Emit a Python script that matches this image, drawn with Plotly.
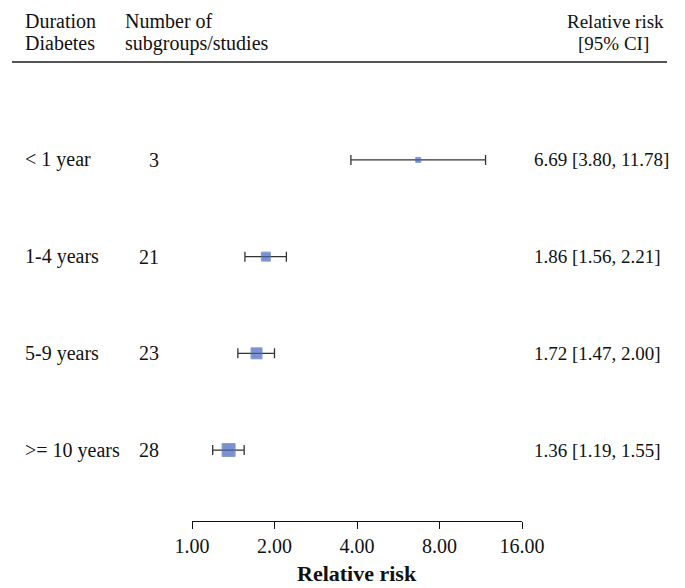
import math
import plotly.graph_objects as go

labels = ["< 1 year", "1-4 years", "5-9 years", ">= 10 years"]
counts = ["3", "21", "23", "28"]
rr = [6.69, 1.86, 1.72, 1.36]
lower = [3.80, 1.56, 1.47, 1.19]
upper = [11.78, 2.21, 2.00, 1.55]
marker_sizes = [5, 9, 11, 13]
tick_vals = [1, 2, 4, 8, 16]
tick_text = ["1.00", "2.00", "4.00", "8.00", "16.00"]

rows = [4, 3, 2, 1]

OFF = 8  # browser body margin
W, H = 685 - OFF, 588 - OFF
L, T = 192 - OFF, 62 - OFF
pw, ph = 330, 459
R = W - L - pw
B = H - T - ph

def px_x(p):
    return (p - OFF - L) / pw

def px_y(p):
    return 1 - (p - OFF - T) / ph

FONT = "Liberation Serif, Times New Roman, serif"

def f(size):
    return dict(family=FONT, size=size, color="#111111")

fig = go.Figure()
fig.add_trace(go.Scatter(
    x=rr, y=rows, mode="markers",
    marker=dict(symbol="square", size=marker_sizes, color="#4565bc",
                line=dict(color="#5574c6", width=1)),
    error_x=dict(type="data", symmetric=False,
                 array=[u - r for u, r in zip(upper, rr)],
                 arrayminus=[r - l for r, l in zip(rr, lower)],
                 color="#333333", thickness=1.3, width=5),
    showlegend=False, hoverinfo="skip",
))

ann = []
def hdr(text, x, y, size, anchor="left"):
    ann.append(dict(text=text, x=px_x(x), y=px_y(y), xref="paper", yref="paper",
                    xanchor=anchor, yanchor="middle", showarrow=False, font=f(size)))

hdr("Duration", 23, 21, 20)
hdr("Diabetes", 23, 43, 20)
hdr("Number of", 123, 21, 20)
hdr("subgroups/studies", 123, 43, 20)
hdr("Relative risk", 615, 21, 19, "center")
hdr("[95% CI]", 613, 43, 19, "center")

for lab, c, r, lo, up, yy in zip(labels, counts, rr, lower, upper, rows):
    ann.append(dict(text=lab, x=px_x(23), y=yy, xref="paper", yref="y",
                    xanchor="left", yanchor="middle", showarrow=False, font=f(20)))
    ann.append(dict(text=c, x=px_x(161), y=yy, xref="paper", yref="y",
                    xanchor="right", yanchor="middle", showarrow=False, font=f(20)))
    ann.append(dict(text=f"{r:.2f} [{lo:.2f}, {up:.2f}]", x=px_x(532), y=yy, xref="paper", yref="y",
                    xanchor="left", yanchor="middle", showarrow=False, font=f(19)))
ann.append(dict(text="<b>Relative risk</b>", x=0.5, y=px_y(573), xref="paper", yref="paper",
                xanchor="center", yanchor="middle", showarrow=False, font=f(22)))

shapes = [
    dict(type="line", xref="paper", yref="paper", x0=px_x(12), x1=px_x(667), y0=1, y1=1,
         line=dict(color="#555555", width=2)),
    dict(type="line", xref="x", yref="paper", x0=0, x1=0, y0=0, y1=1,
         line=dict(color="#222222", width=1, dash="dashdot")),
]

fig.update_layout(
    width=W, height=H,
    margin=dict(l=L, r=R, t=T, b=B),
    paper_bgcolor="white", plot_bgcolor="white",
    font=dict(family=FONT, size=19, color="#111111"),
    annotations=ann, shapes=shapes,
    xaxis=dict(type="log", range=[0, math.log10(16)], tickvals=tick_vals, ticktext=tick_text,
               showline=True, linecolor="#111111", linewidth=1, ticks="outside", ticklen=7,
               tickcolor="#111111", showgrid=False, zeroline=False, fixedrange=True,
               tickfont=dict(family=FONT, size=20, color="#111111")),
    yaxis=dict(range=[0.266, 5.013], visible=False, showgrid=False, zeroline=False),
)

fig.write_html("out.html")
